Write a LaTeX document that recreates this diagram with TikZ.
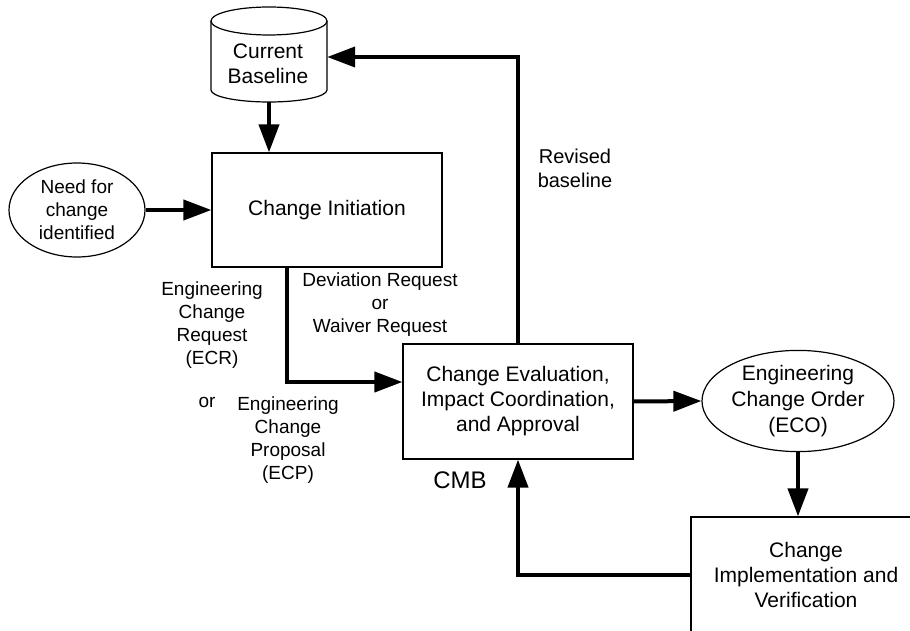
\documentclass[tikz,border=0pt]{standalone}
\usepackage{fontspec}
\setmainfont{Liberation Sans}
\usetikzlibrary{arrows.meta,calc,shapes.geometric}

\tikzset{
  boxnode/.style={draw, line width=1.2pt, minimum width=230pt, minimum height=114pt,
    align=center, inner sep=0pt, font=\fontsize{21}{25}\selectfont},
  ovalnode/.style={draw, ellipse, line width=1.2pt, align=center, inner sep=0pt,
    font=\fontsize{21}{26}\selectfont},
  lbl/.style={align=center, inner sep=0pt, font=\fontsize{19}{23}\selectfont},
  flow/.style={line width=4pt, -{Triangle[length=28pt,width=20pt]}},
}

\begin{document}
\begin{tikzpicture}[x=1pt, y=-1pt]
\useasboundingbox (0,0) rectangle (910,631);
\fill[white] (0,0) rectangle (910,631);

% current baseline store (cylinder)
\node[inner sep=0pt, minimum width=116pt, minimum height=90pt, align=center,
  font=\fontsize{21}{25}\selectfont] (cb) at (269,57) {};
\draw[line width=1.2pt] (211,21) -- (211,90) arc[start angle=180, end angle=0, x radius=58, y radius=12]
  -- (327,21);
\draw[line width=1.2pt] (269,21) ellipse[x radius=58, y radius=14];
\node[align=center, inner sep=0pt, font=\fontsize{21}{25}\selectfont] (cbtext) at (268,64) {Current\\Baseline};

% process boxes
\node[boxnode] (ci) at (327,210) {Change Initiation};
\node[boxnode, minimum height=115pt] (ce) at (518,401.5) {Change Evaluation,\\Impact Coordination,\\and Approval};
\node[boxnode, minimum height=115pt] (impl) at (806,574.5) {Change\\Implementation and\\Verification};

% events
\node[ovalnode, minimum width=136pt, minimum height=94pt, font=\fontsize{19}{23}\selectfont] (need) at (77,210) {Need for\\change\\identified};
\node[ovalnode, minimum width=192pt, minimum height=96pt] (eco) at (798,401) {Engineering\\Change Order\\(ECO)};

% labels
\node[lbl] (dev) at (380,305) {Deviation Request\\or\\Waiver Request};
\node[lbl] (ecr) at (212,325) {Engineering\\Change\\Request\\(ECR)};
\node[lbl] (or) at (207,402) {or};
\node[lbl] (ecp) at (288,440) {Engineering\\Change\\Proposal\\(ECP)};
\node[align=center, inner sep=0pt, font=\fontsize{24}{28}\selectfont] (cmb) at (460,480) {CMB};
\node[align=center, inner sep=0pt, font=\fontsize{20}{24}\selectfont] (rev) at (575,168) {Revised\\baseline};

% connectors
\draw[flow] (cb.south) -- (cb.south |- ci.north);
\draw[flow] (need.east) -- (ci.west);
\draw[flow] ($(ci.south west)+(76,0)$) |- ($(ce.west)+(0,-19.5)$);
\draw[flow] (ce.north) |- (cb.east);
\draw[flow] (ce.east) -- (eco.west);
\draw[flow] (eco.south) -- (eco.south |- impl.north);
\draw[flow] (impl.west) -| (ce.south);
\end{tikzpicture}
\end{document}
